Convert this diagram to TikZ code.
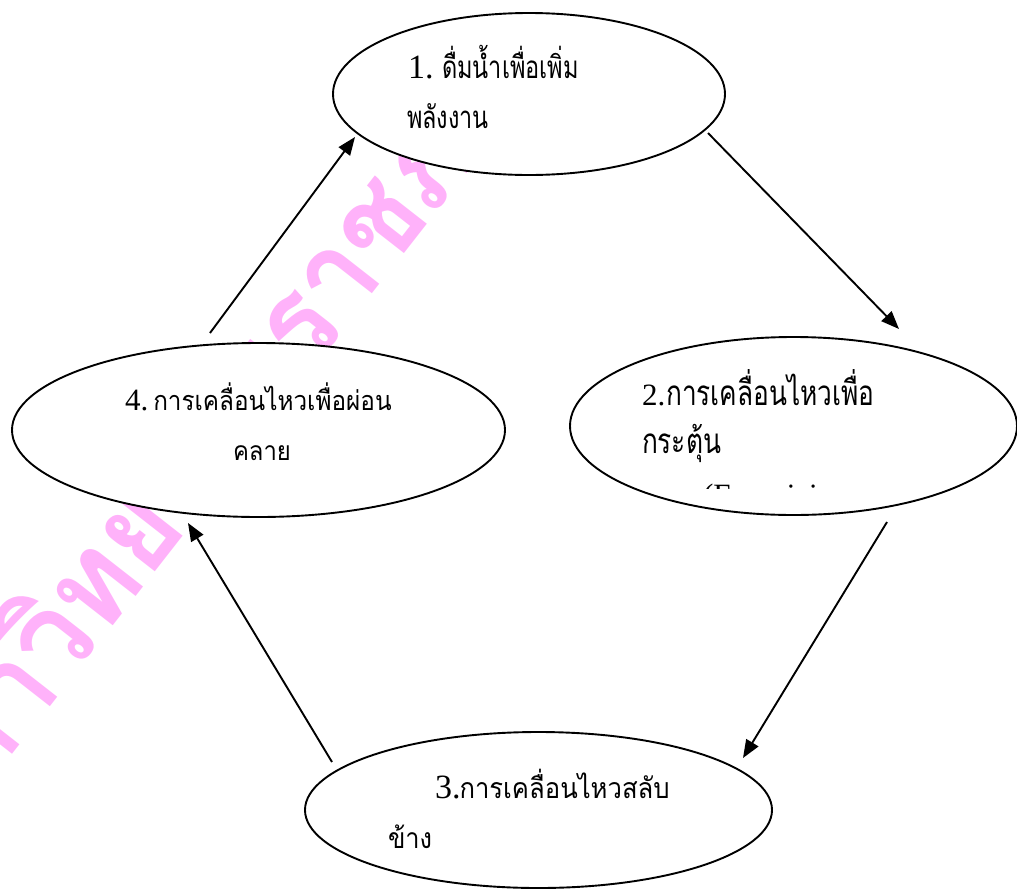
\documentclass[tikz,border=0pt]{standalone}
\usepackage{fontspec}
\setmainfont{Liberation Serif}
\newfontfamily\thaifont[Script=Thai,FakeStretch=0.75]{Loma}
\newfontfamily\thaifontb[Script=Thai,FakeStretch=0.9]{Loma}
\newfontfamily\wmfont[Script=Thai,FakeStretch=0.92]{Loma}
\usetikzlibrary{shapes.geometric,arrows.meta}
\definecolor{wmpink}{RGB}{255,178,250}
\newcommand\dg[2]{{\fontsize{#1}{#1}\selectfont #2}}
\newcommand\tht[2]{{\fontsize{#1}{#1}\selectfont\thaifont #2}}
\newcommand\thb[2]{{\fontsize{#1}{#1}\selectfont\thaifontb #2}}
\begin{document}
\begin{tikzpicture}[x=1pt,y=-1pt,
  every node/.style={inner sep=0pt,outer sep=0pt},
  bub/.style={ellipse,draw,fill=white,line width=1.9pt},
  lbl/.style={anchor=base west},
  arr/.style={line width=1.9pt,-{Triangle[length=18pt,width=14pt]}},
  wm/.style={anchor=base west,rotate=52,text=wmpink}]
\useasboundingbox (0,0) rectangle (1017,889);
\clip (0,0) rectangle (1017,889);
\node[wm] (wmark) at (-66,855) {\fontsize{122}{122}\selectfont\wmfont\bfseries มหาวิทยาลัยราชภัฏ};
% ellipses
\node[bub,minimum width=392pt,minimum height=162pt] (e1) at (529,94) {};
\node[bub,minimum width=447pt,minimum height=178pt] (e2) at (793.5,426) {};
\node[bub,minimum width=467pt,minimum height=156pt] (e3) at (538.5,810) {};
\node[bub,minimum width=493pt,minimum height=174pt] (e4) at (258.5,430) {};
% texts
\node[lbl] (t1a) at (408,78) {\dg{34}{1.\ }\tht{31.4}{ดื่มน้ำเพื่อเพิ่ม}};
\node[lbl] (t1b) at (407,128) {\tht{31.2}{พลังงาน}};
\node[lbl] (t2a) at (642,405) {\dg{31}{2.}\hspace{1pt}\tht{35}{การเคลื่อนไหวเพื่อ}};
\node[lbl] (t2b) at (642,453) {\tht{35}{กระตุ้น}};
\begin{scope}
\clip (600,470) rectangle (1000,488.5);
\node[lbl] (t2c) at (703,505) {\dg{31}{(Energizing}};
\end{scope}
\node[lbl] (t3a) at (435,798) {\dg{34}{3.}\hspace{-1pt}\thb{28.5}{การเคลื่อนไหวสลับ}};
\node[lbl] (t3b) at (388,848) {\thb{28.3}{ข้าง}};
\node[lbl] (t4a) at (125,410) {\dg{31}{4.}\hspace{5pt}\thb{27}{การเคลื่อนไหวเพื่อผ่อน}};
\node[lbl] (t4b) at (233,460) {\thb{26.5}{คลาย}};
% arrows
\coordinate (a1s) at (210,333); \coordinate (a1e) at (355,137);
\coordinate (a2s) at (708,133); \coordinate (a2e) at (899,329);
\coordinate (a3s) at (887,522); \coordinate (a3e) at (743,758);
\coordinate (a4s) at (332,762); \coordinate (a4e) at (188,523);
\draw[arr] (a1s) -- (a1e);
\draw[arr] (a2s) -- (a2e);
\draw[arr] (a3s) -- (a3e);
\draw[arr] (a4s) -- (a4e);
\end{tikzpicture}
\end{document}
